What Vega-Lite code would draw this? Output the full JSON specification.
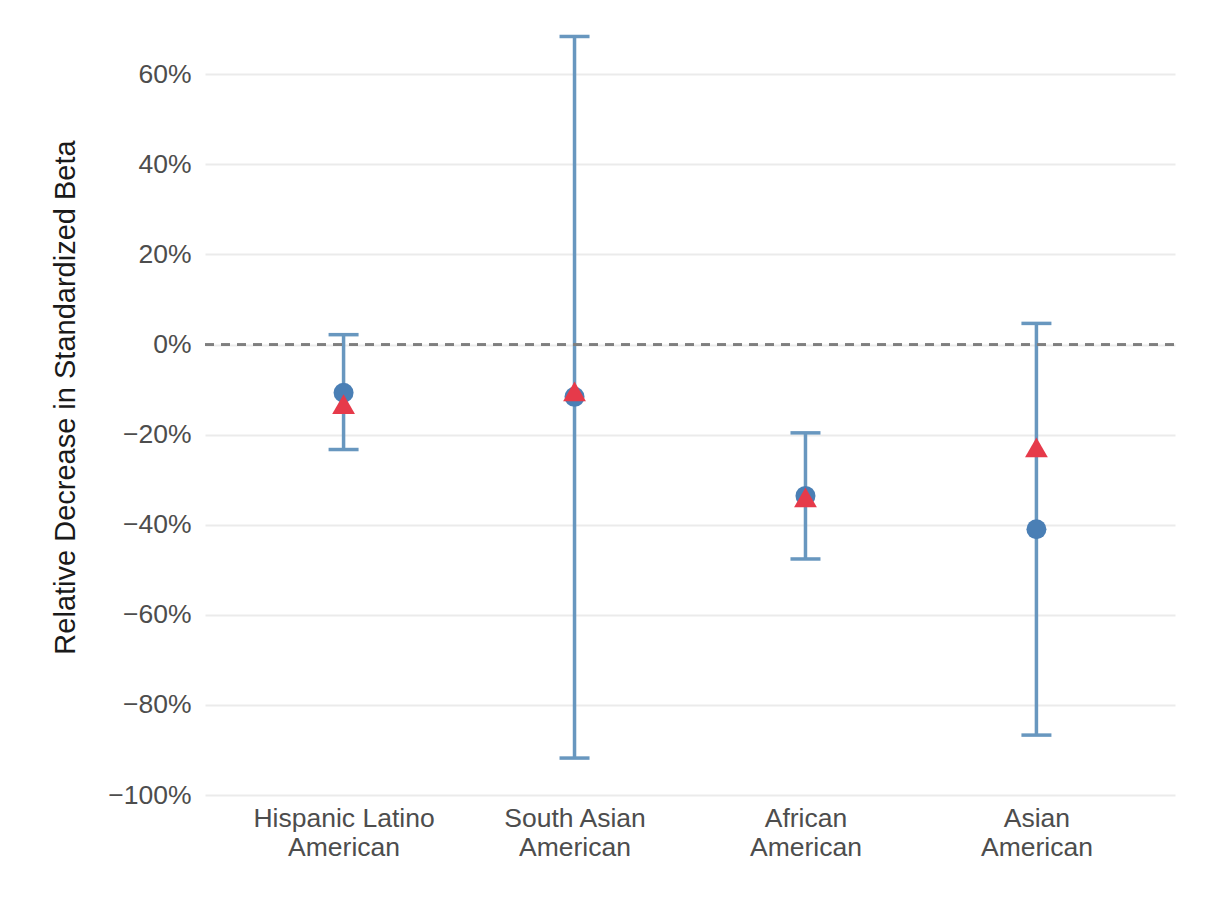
{
  "$schema": "https://vega.github.io/schema/vega-lite/v6.json",
  "width": 970,
  "height": 795,
  "autosize": "none",
  "padding": {"left": 205, "top": 0, "right": 41, "bottom": 127},
  "background": "white",
  "config": {"view": {"stroke": null}, "font": "Liberation Sans"},
  "data": {
    "values": [
      {"group": "Hispanic Latino|American", "est": -0.107, "adj": -0.132, "lo": -0.233, "hi": 0.022},
      {"group": "South Asian|American", "est": -0.116, "adj": -0.104, "lo": -0.918, "hi": 0.684},
      {"group": "African|American", "est": -0.336, "adj": -0.339, "lo": -0.196, "hi": -0.476},
      {"group": "Asian|American", "est": -0.41, "adj": -0.228, "lo": -0.867, "hi": 0.047}
    ]
  },
  "encoding": {
    "x": {
      "field": "group", "type": "nominal", "sort": null,
      "scale": {"type": "point", "padding": 0.6},
      "axis": {
        "title": null, "labelExpr": "split(datum.label, '|')", "labelLimit": 0,
        "labelFontSize": 26.5, "labelColor": "#4d4d4d", "labelLineHeight": 29,
        "labelPadding": 10, "ticks": false, "domain": false, "grid": false, "labelAngle": 0
      }
    }
  },
  "layer": [
    {
      "mark": {"type": "rule", "color": "#6897bf", "strokeWidth": 3.5},
      "encoding": {
        "y": {
          "field": "lo", "type": "quantitative",
          "scale": {"domain": [-1.0, 0.765], "nice": false, "zero": false},
          "axis": {
            "title": "Relative Decrease in Standardized Beta",
            "titleFontSize": 29, "titleFontWeight": "normal", "titleColor": "#1a1a1a",
            "titleX": -140, "titleY": 397, "titleAngle": -90, "titleAlign": "center", "titleBaseline": "middle",
            "values": [-1, -0.8, -0.6, -0.4, -0.2, 0, 0.2, 0.4, 0.6],
            "format": ".0%", "labelFontSize": 26.5, "labelColor": "#4d4d4d", "labelPadding": 14,
            "ticks": false, "domain": false, "grid": true, "gridColor": "#ebebeb", "gridWidth": 2.2
          }
        },
        "y2": {"field": "hi"}
      }
    },
    {
      "mark": {"type": "tick", "color": "#6897bf", "thickness": 3.5, "size": 30, "opacity": 1},
      "encoding": {"y": {"field": "lo", "type": "quantitative"}}
    },
    {
      "mark": {"type": "tick", "color": "#6897bf", "thickness": 3.5, "size": 30, "opacity": 1},
      "encoding": {"y": {"field": "hi", "type": "quantitative"}}
    },
    {
      "mark": {"type": "rule", "color": "#7f7f7f", "strokeWidth": 2.2, "strokeDash": [9, 7]},
      "encoding": {"y": {"datum": 0, "type": "quantitative"}, "x": {"value": 0}, "x2": {"value": 970}}
    },
    {
      "mark": {"type": "point", "shape": "circle", "filled": true, "color": "#4a7fb5", "opacity": 1, "size": 400},
      "encoding": {"y": {"field": "est", "type": "quantitative"}}
    },
    {
      "mark": {"type": "point", "shape": "triangle-up", "filled": true, "color": "#e63a4a", "opacity": 1, "size": 520},
      "encoding": {"y": {"field": "adj", "type": "quantitative"}}
    }
  ]
}
